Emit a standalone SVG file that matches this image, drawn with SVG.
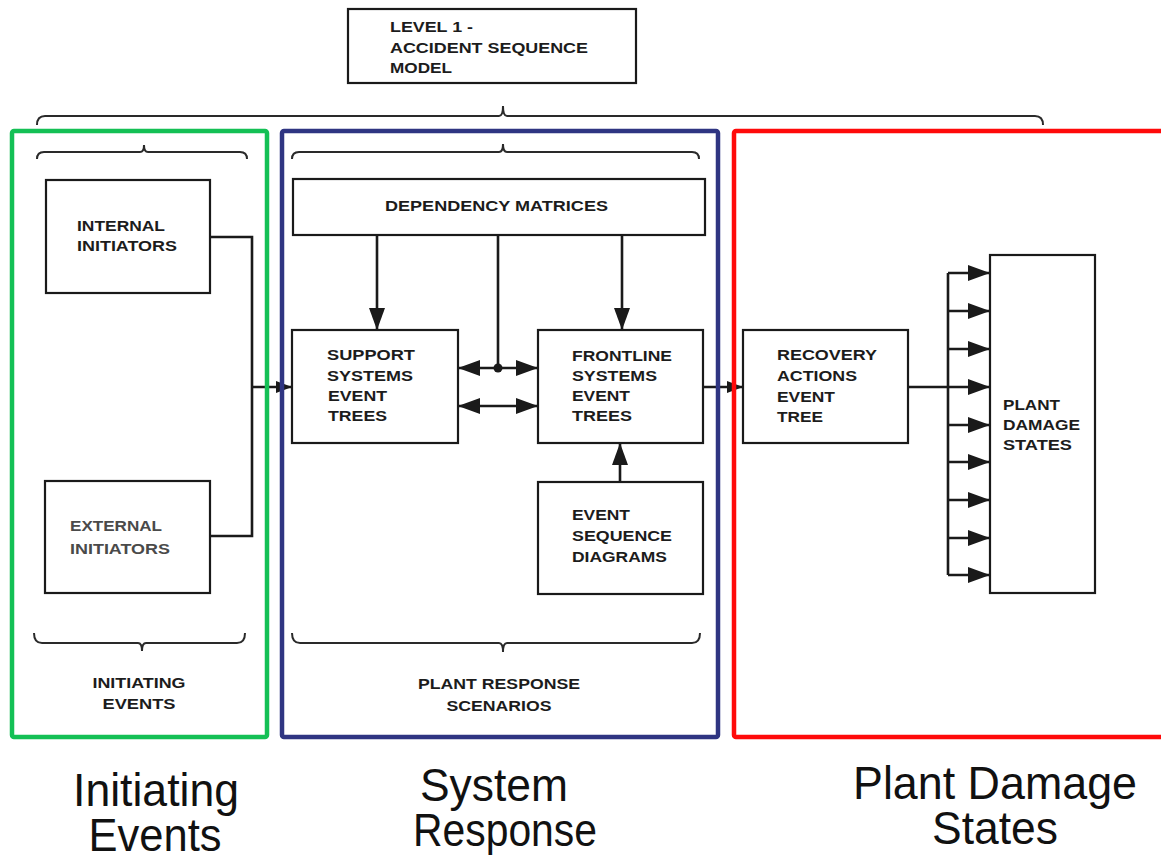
<svg xmlns="http://www.w3.org/2000/svg" width="1161" height="855" viewBox="0 0 1161 855">
  <style>
    .box { fill: #ffffff; stroke: #1a1a1a; stroke-width: 2.2; }
    .lbl { font-family: "Liberation Sans", Arial, sans-serif; font-weight: bold; font-size: 15px; fill: #1c1c1c; }
    .lbl-grey { fill: #4a4a4a; }
    .mid { text-anchor: middle; }
    .line { fill: none; stroke: #1a1a1a; stroke-width: 2.6; }
    .brace { fill: none; stroke: #2a2a2a; stroke-width: 2; }
    .frame { fill: none; stroke-width: 4.5; }
    .caption { font-family: "Liberation Sans", Arial, sans-serif; font-size: 47px; fill: #111111; text-anchor: middle; }
  </style>
  <defs>
    <marker id="head" markerUnits="userSpaceOnUse" markerWidth="22" markerHeight="16" refX="22" refY="8" orient="auto-start-reverse">
      <path d="M0,0 L22,8 L0,16 z" fill="#1a1a1a"/>
    </marker>
    <marker id="head-sm" markerUnits="userSpaceOnUse" markerWidth="16" markerHeight="12" refX="16" refY="6" orient="auto">
      <path d="M0,0 L16,6 L0,12 z" fill="#1a1a1a"/>
    </marker>
  </defs>

  <rect width="1161" height="855" fill="#ffffff"/>

  <!-- top-level model box -->
  <g id="level1-model">
    <rect class="box" x="348" y="9" width="288" height="74"/>
    <text class="lbl" x="390" y="32" textLength="83" lengthAdjust="spacingAndGlyphs">LEVEL 1 -</text>
    <text class="lbl" x="390" y="53" textLength="198" lengthAdjust="spacingAndGlyphs">ACCIDENT SEQUENCE</text>
    <text class="lbl" x="390" y="73" textLength="62" lengthAdjust="spacingAndGlyphs">MODEL</text>
  </g>

  <!-- braces -->
  <g id="braces">
    <path class="brace" d="M37,125 Q37,116 45,116 L499,116 Q503,116 503,106 Q503,116 507,116 L1035,116 Q1043,116 1043,125"/>
    <path class="brace" d="M37,159 Q37,152 44,152 L140,152 Q144,152 144,145 Q144,152 148,152 L240,152 Q247,152 247,159"/>
    <path class="brace" d="M292,159 Q292,152 299,152 L499,152 Q503,152 503,144 Q503,152 507,152 L692,152 Q699,152 699,159"/>
    <path class="brace" d="M34,633 Q34,643 42,643 L138,643 Q142,643 142,651 Q142,643 146,643 L237,643 Q245,643 245,633"/>
    <path class="brace" d="M292,633 Q292,643 300,643 L499,643 Q503,643 503,652 Q503,643 507,643 L692,643 Q700,643 700,633"/>
  </g>

  <!-- connectors -->
  <g id="connectors">
    <path class="line" d="M210,237 H252 V536 H210"/>
    <path class="line" d="M252,387 H292" marker-end="url(#head-sm)"/>
    <path class="line" d="M377,235 V330" marker-end="url(#head)"/>
    <path class="line" d="M498,235 V368"/>
    <circle cx="498" cy="368" r="4.5" fill="#1a1a1a"/>
    <path class="line" d="M622,235 V330" marker-end="url(#head)"/>
    <path class="line" d="M458,368 H538" marker-start="url(#head)" marker-end="url(#head)"/>
    <path class="line" d="M458,406 H538" marker-start="url(#head)" marker-end="url(#head)"/>
    <path class="line" d="M620,482 V443" marker-end="url(#head)"/>
    <path class="line" d="M703,387 H743" marker-end="url(#head-sm)"/>
    <path class="line" d="M908,387 H948"/>
    <path class="line" d="M948,273 V575"/>
    <path class="line" d="M948,273 H990" marker-end="url(#head)"/>
    <path class="line" d="M948,311 H990" marker-end="url(#head)"/>
    <path class="line" d="M948,349 H990" marker-end="url(#head)"/>
    <path class="line" d="M948,387 H990" marker-end="url(#head)"/>
    <path class="line" d="M948,425 H990" marker-end="url(#head)"/>
    <path class="line" d="M948,462 H990" marker-end="url(#head)"/>
    <path class="line" d="M948,500 H990" marker-end="url(#head)"/>
    <path class="line" d="M948,538 H990" marker-end="url(#head)"/>
    <path class="line" d="M948,575 H990" marker-end="url(#head)"/>
  </g>

  <g id="internal-initiators">
    <rect class="box" x="46" y="180" width="164" height="113"/>
    <text class="lbl" x="77" y="231" textLength="88" lengthAdjust="spacingAndGlyphs">INTERNAL</text>
    <text class="lbl" x="77" y="251" textLength="100" lengthAdjust="spacingAndGlyphs">INITIATORS</text>
  </g>

  <g id="external-initiators">
    <rect class="box" x="45" y="481" width="165" height="112"/>
    <text class="lbl lbl-grey" x="70" y="531" textLength="92" lengthAdjust="spacingAndGlyphs">EXTERNAL</text>
    <text class="lbl lbl-grey" x="70" y="554" textLength="100" lengthAdjust="spacingAndGlyphs">INITIATORS</text>
  </g>

  <g id="dependency-matrices">
    <rect class="box" x="293" y="179" width="412" height="56"/>
    <text class="lbl" x="385" y="211" textLength="223" lengthAdjust="spacingAndGlyphs">DEPENDENCY MATRICES</text>
  </g>

  <g id="support-systems">
    <rect class="box" x="292" y="330" width="166" height="113"/>
    <text class="lbl" x="327" y="360" textLength="88" lengthAdjust="spacingAndGlyphs">SUPPORT</text>
    <text class="lbl" x="327" y="381" textLength="86" lengthAdjust="spacingAndGlyphs">SYSTEMS</text>
    <text class="lbl" x="328" y="401" textLength="59" lengthAdjust="spacingAndGlyphs">EVENT</text>
    <text class="lbl" x="328" y="421" textLength="59" lengthAdjust="spacingAndGlyphs">TREES</text>
  </g>

  <g id="frontline-systems">
    <rect class="box" x="538" y="330" width="165" height="113"/>
    <text class="lbl" x="572" y="361" textLength="100" lengthAdjust="spacingAndGlyphs">FRONTLINE</text>
    <text class="lbl" x="572" y="381" textLength="85" lengthAdjust="spacingAndGlyphs">SYSTEMS</text>
    <text class="lbl" x="572" y="401" textLength="58" lengthAdjust="spacingAndGlyphs">EVENT</text>
    <text class="lbl" x="572" y="421" textLength="60" lengthAdjust="spacingAndGlyphs">TREES</text>
  </g>

  <g id="event-sequence-diagrams">
    <rect class="box" x="538" y="482" width="165" height="112"/>
    <text class="lbl" x="572" y="520" textLength="58" lengthAdjust="spacingAndGlyphs">EVENT</text>
    <text class="lbl" x="572" y="541" textLength="100" lengthAdjust="spacingAndGlyphs">SEQUENCE</text>
    <text class="lbl" x="572" y="562" textLength="95" lengthAdjust="spacingAndGlyphs">DIAGRAMS</text>
  </g>

  <g id="recovery-actions">
    <rect class="box" x="743" y="330" width="165" height="113"/>
    <text class="lbl" x="777" y="360" textLength="100" lengthAdjust="spacingAndGlyphs">RECOVERY</text>
    <text class="lbl" x="777" y="381" textLength="80" lengthAdjust="spacingAndGlyphs">ACTIONS</text>
    <text class="lbl" x="777" y="402" textLength="58" lengthAdjust="spacingAndGlyphs">EVENT</text>
    <text class="lbl" x="777" y="422" textLength="46" lengthAdjust="spacingAndGlyphs">TREE</text>
  </g>

  <g id="plant-damage-states">
    <rect class="box" x="990" y="255" width="105" height="338"/>
    <text class="lbl" x="1003" y="410" textLength="57" lengthAdjust="spacingAndGlyphs">PLANT</text>
    <text class="lbl" x="1003" y="430" textLength="77" lengthAdjust="spacingAndGlyphs">DAMAGE</text>
    <text class="lbl" x="1003" y="450" textLength="69" lengthAdjust="spacingAndGlyphs">STATES</text>
  </g>

  <g id="group-labels">
    <text class="lbl mid" x="139" y="688" textLength="93" lengthAdjust="spacingAndGlyphs">INITIATING</text>
    <text class="lbl mid" x="139" y="709" textLength="73" lengthAdjust="spacingAndGlyphs">EVENTS</text>
    <text class="lbl mid" x="499" y="689" textLength="162" lengthAdjust="spacingAndGlyphs">PLANT RESPONSE</text>
    <text class="lbl mid" x="499" y="711" textLength="105" lengthAdjust="spacingAndGlyphs">SCENARIOS</text>
  </g>

  <!-- coloured phase frames -->
  <g id="phase-initiating">
    <rect class="frame" x="12" y="131" width="255" height="606" rx="2" stroke="#14c055"/>
    <text class="caption" x="156" y="806" textLength="166" lengthAdjust="spacingAndGlyphs">Initiating</text>
    <text class="caption" x="155" y="851" textLength="133" lengthAdjust="spacingAndGlyphs">Events</text>
  </g>
  <g id="phase-system">
    <rect class="frame" x="282" y="131" width="436" height="606" rx="2" stroke="#2f3582"/>
    <text class="caption" x="494" y="801" textLength="148" lengthAdjust="spacingAndGlyphs">System</text>
    <text class="caption" x="505" y="846" textLength="184" lengthAdjust="spacingAndGlyphs">Response</text>
  </g>
  <g id="phase-damage">
    <rect class="frame" x="734" y="131" width="440" height="606" rx="2" stroke="#ff0a0a"/>
    <text class="caption" x="995" y="799" textLength="284" lengthAdjust="spacingAndGlyphs">Plant Damage</text>
    <text class="caption" x="995" y="844" textLength="126" lengthAdjust="spacingAndGlyphs">States</text>
  </g>
</svg>
